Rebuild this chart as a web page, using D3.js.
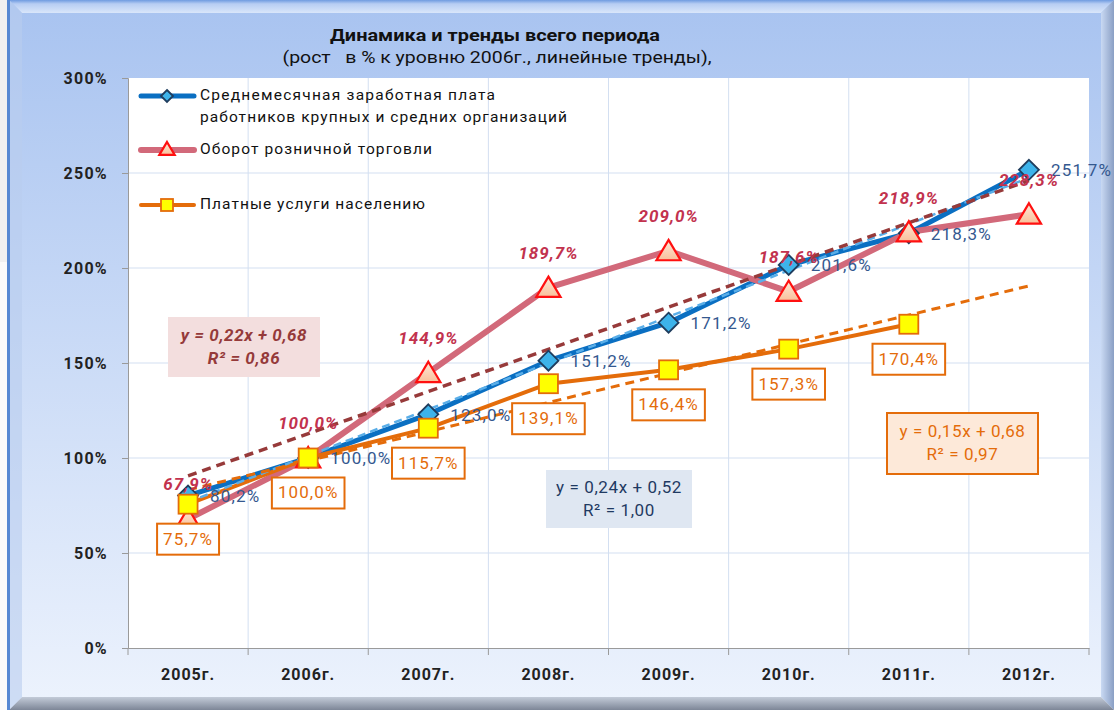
<!DOCTYPE html>
<html><head><meta charset="utf-8">
<script src="https://cdn.jsdelivr.net/npm/d3@7"></script>
<style>html,body{margin:0;padding:0;background:#fff;}svg{display:block;}</style>
</head><body>
<svg id="chart" width="1114" height="710"></svg>
<script>
// ---- data ----
const years = ["2005г.","2006г.","2007г.","2008г.","2009г.","2010г.","2011г.","2012г."];
const wages = [80.2,100.0,123.0,151.2,171.2,201.6,218.3,251.7];
const retail = [67.9,100.0,144.9,189.7,209.0,187.6,218.9,228.3];
const services = [75.7,100.0,115.7,139.1,146.4,157.3,170.4];
const yTicks = [0,50,100,150,200,250,300];
const seriesNames = [
  ["Среднемесячная заработная плата","работников крупных и средних организаций"],
  ["Оборот розничной торговли"],
  ["Платные услуги населению"]
];
const trendWages = ["y = 0,24x + 0,52","R² = 1,00"];
const trendRetail = ["y = 0,22x + 0,68","R² = 0,86"];
const trendServices = ["y = 0,15x + 0,68","R² = 0,97"];
const titleLines = ["Динамика и тренды всего периода","(рост   в % к уровню 2006г., линейные тренды),"];

const W = 1114, H = 710;
const svg = d3.select("#chart");
const FONT = "Roboto, 'Noto Sans', sans-serif";
const defs = svg.append("defs");

// ---- frame ----
const g1 = defs.append("linearGradient").attr("id","panel").attr("x1",0).attr("y1",0).attr("x2",0).attr("y2",1);
g1.append("stop").attr("offset","0%").attr("stop-color","#a8c3f0");
g1.append("stop").attr("offset","100%").attr("stop-color","#edf3fd");
const g2 = defs.append("linearGradient").attr("id","rbev").attr("x1",0).attr("y1",0).attr("x2",1).attr("y2",0);
g2.append("stop").attr("offset","0%").attr("stop-color","#c9d9f3");
g2.append("stop").attr("offset","100%").attr("stop-color","#8a9fc4");
const g3 = defs.append("linearGradient").attr("id","tbev").attr("x1",0).attr("y1",0).attr("x2",0).attr("y2",1);
g3.append("stop").attr("offset","0%").attr("stop-color","#6f9be0");
g3.append("stop").attr("offset","30%").attr("stop-color","#b7cdf3");
g3.append("stop").attr("offset","100%").attr("stop-color","#d9e6fa");
const g4 = defs.append("linearGradient").attr("id","bbev").attr("x1",0).attr("y1",0).attr("x2",0).attr("y2",1);
g4.append("stop").attr("offset","0%").attr("stop-color","#c3cbd8");
g4.append("stop").attr("offset","100%").attr("stop-color","#7d8697");
const g5 = defs.append("linearGradient").attr("id","tri").attr("x1",0).attr("y1",0).attr("x2",0).attr("y2",1);
g5.append("stop").attr("offset","0%").attr("stop-color","#fde9d9");
g5.append("stop").attr("offset","100%").attr("stop-color","#f9c09a");

svg.append("rect").attr("x",0).attr("y",0).attr("width",W).attr("height",H).attr("fill","#f0f0f0");
svg.append("rect").attr("x",0).attr("y",262).attr("width",8).attr("height",H-262).attr("fill","#fafafa");
svg.append("rect").attr("x",9).attr("y",0).attr("width",W-9).attr("height",H).attr("fill","url(#panel)");
svg.append("path").attr("d",`M9,0 L${W},0 L1101,13 L22,13 Z`).attr("fill","url(#tbev)");
svg.append("path").attr("d",`M${W},0 L${W},${H} L1101,697 L1101,13 Z`).attr("fill","url(#rbev)");
svg.append("path").attr("d",`M9,${H} L${W},${H} L1101,697 L22,697 Z`).attr("fill","url(#bbev)");
svg.append("path").attr("d",`M9,0 L22,13 L22,697 L9,${H} Z`).attr("fill","#b9cdef").attr("opacity",0.6);
svg.append("rect").attr("x",7).attr("y",0).attr("width",3).attr("height",H).attr("fill","#5688d2");

// ---- scales ----
const plot = {l:128, r:1089, t:78, b:648};
const x = d3.scaleBand().domain(years).range([plot.l, plot.r]);
const xc = d => x(d) + x.bandwidth()/2;
const y = d3.scaleLinear().domain([0,300]).range([plot.b, plot.t]);

svg.append("rect").attr("x",plot.l).attr("y",plot.t).attr("width",plot.r-plot.l).attr("height",plot.b-plot.t).attr("fill","#ffffff");

// gridlines
svg.append("g").selectAll("line").data(yTicks.filter(v=>v>0 && v<300)).join("line")
  .attr("x1",plot.l).attr("x2",plot.r).attr("y1",d=>y(d)).attr("y2",d=>y(d))
  .attr("stroke","#d3dff1").attr("stroke-width",1);
svg.append("g").selectAll("line").data(years.slice(1)).join("line")
  .attr("x1",d=>x(d)).attr("x2",d=>x(d)).attr("y1",plot.t).attr("y2",plot.b)
  .attr("stroke","#d3dff1").attr("stroke-width",1);

// y axis
const yAxis = d3.axisLeft(y).tickValues(yTicks).tickSize(6).tickFormat(d=>d+"%");
const ya = svg.append("g").attr("transform",`translate(${plot.l},0)`).call(yAxis);
ya.select(".domain").attr("stroke","#9a9a9a");
ya.selectAll(".tick line").attr("stroke","#9a9a9a");
ya.selectAll(".tick text").attr("x",-20).attr("font-family",FONT).attr("font-size",16).attr("font-weight","bold")
  .attr("fill","#222").attr("letter-spacing","1.3px");

// x axis
const xa = svg.append("g").attr("transform",`translate(0,${plot.b})`)
  .call(d3.axisBottom(x).tickSize(0).tickPadding(21));
xa.select(".domain").attr("stroke","#9a9a9a");
xa.selectAll(".tick text").attr("font-family",FONT).attr("font-size",16).attr("font-weight","bold").attr("fill","#222").attr("letter-spacing","1px");
svg.append("g").selectAll("line").data(years.concat(["end"])).join("line")
  .attr("x1",d=>d==="end"?plot.r:x(d)).attr("x2",d=>d==="end"?plot.r:x(d))
  .attr("y1",plot.b).attr("y2",plot.b+7).attr("stroke","#9a9a9a");

// ---- series ----
const C = {
  blue:"#0a6fc2", blueTrend:"#5aaee8", blueLbl:"#34588f",
  red:"#d2697a", redTrend:"#973a3a", redLbl:"#c2324e",
  orange:"#e46c0a"
};
const line = d3.line().x((d,i)=>xc(years[i])).y(d=>y(d));

svg.append("path").datum(wages).attr("d",line).attr("fill","none").attr("stroke",C.blue).attr("stroke-width",5).attr("stroke-linejoin","round");
svg.append("path").datum(retail).attr("d",line).attr("fill","none").attr("stroke",C.red).attr("stroke-width",6).attr("stroke-linejoin","round");
svg.append("path").datum(services).attr("d",line).attr("fill","none").attr("stroke",C.orange).attr("stroke-width",4).attr("stroke-linejoin","round");

// linear trends (least squares, x = 1..n)
function fit(vals){
  const xs = vals.map((v,i)=>i+1);
  const mx = d3.mean(xs), my = d3.mean(vals);
  const sxy = d3.sum(xs.map((xv,i)=>(xv-mx)*(vals[i]-my)));
  const sxx = d3.sum(xs.map(xv=>(xv-mx)*(xv-mx)));
  const b = sxy/sxx; return {b, a: my - b*mx};
}
function trend(vals, color, width, dash){
  const f = fit(vals);
  const x1 = 1, x2 = years.length;
  svg.append("line")
    .attr("x1",xc(years[x1-1])).attr("y1",y(f.a+f.b*x1))
    .attr("x2",xc(years[x2-1])).attr("y2",y(f.a+f.b*x2))
    .attr("stroke",color).attr("stroke-width",width).attr("stroke-dasharray",dash);
}
trend(wages, C.blueTrend, 2.5, "8,5");
trend(retail, C.redTrend, 3.5, "9,6");
trend(services, C.orange, 3, "9,6");

// markers
const diamond = (s) => `M0,${-s} L${s},0 L0,${s} L${-s},0 Z`;
const triangle = (s) => `M0,${-s} L${s*1.1},${s*0.85} L${-s*1.1},${s*0.85} Z`;
function drawDiamond(g, cx, cy, s){
  g.append("path").attr("d",diamond(s)).attr("transform",`translate(${cx},${cy})`)
    .attr("fill","#3db3ea").attr("stroke","#1f3d5e").attr("stroke-width",1.8);
}
function drawTri(g, cx, cy, s){
  g.append("path").attr("d",triangle(s)).attr("transform",`translate(${cx},${cy})`)
    .attr("fill","url(#tri)").attr("stroke","#ff1010").attr("stroke-width",2.2).attr("stroke-linejoin","miter");
}
function drawSq(g, cx, cy, s){
  g.append("rect").attr("x",cx-s).attr("y",cy-s).attr("width",2*s).attr("height",2*s)
    .attr("fill","#ffff00").attr("stroke",C.orange).attr("stroke-width",1.8);
}
const mk = svg.append("g");
wages.forEach((v,i)=>drawDiamond(mk, xc(years[i]), y(v), 10));
retail.forEach((v,i)=>drawTri(mk, xc(years[i]), y(v), 11));
services.forEach((v,i)=>drawSq(mk, xc(years[i]), y(v), 9.5));

const fmt = v => v.toFixed(1).replace(".",",") + "%";

// labels
const lb = svg.append("g").attr("font-family",FONT);
wages.forEach((v,i)=>{
  lb.append("text").attr("x",xc(years[i])+22).attr("y",y(v)+2).attr("dominant-baseline","middle")
    .attr("font-size",17).attr("letter-spacing","1.2px").attr("fill",C.blueLbl).text(fmt(v));
});
retail.forEach((v,i)=>{
  lb.append("text").attr("x",xc(years[i])).attr("y",y(v)-33).attr("dominant-baseline","middle")
    .attr("text-anchor","middle").attr("font-size",17).attr("font-weight","bold").attr("font-style","italic")
    .attr("letter-spacing","1px").attr("fill",C.redLbl).text(fmt(v));
});
services.forEach((v,i)=>{
  const cx = xc(years[i]), cy = y(v)+35;
  const gg = lb.append("g");
  const r = gg.append("rect");
  const t = gg.append("text").attr("x",cx).attr("y",cy+1).attr("dominant-baseline","middle").attr("text-anchor","middle")
    .attr("font-size",17).attr("letter-spacing","1.1px").attr("fill",C.orange).text(fmt(v));
  const w = t.node().getComputedTextLength() + 12;
  r.attr("x",cx-w/2).attr("y",cy-15.5).attr("width",w).attr("height",31)
    .attr("fill","#fff").attr("stroke",C.orange).attr("stroke-width",2);
});

// trend equation boxes
function eqBox(lines, bx, by, bw, bh, fill, stroke, color, bold, italic){
  const g = svg.append("g").attr("font-family",FONT);
  g.append("rect").attr("x",bx).attr("y",by).attr("width",bw).attr("height",bh).attr("fill",fill)
    .attr("stroke",stroke||"none").attr("stroke-width",2);
  lines.forEach((t,i)=>{
    g.append("text").attr("x",bx+bw/2).attr("y",by+bh/2+(i-0.5)*23+1).attr("dominant-baseline","middle")
      .attr("text-anchor","middle").attr("font-size",17).attr("letter-spacing","0.6px")
      .attr("font-weight",bold?"bold":"normal").attr("font-style",italic?"italic":"normal")
      .attr("fill",color).text(t);
  });
}
eqBox(trendRetail, 168, 317, 152, 60, "#f3dede", null, "#953a3a", true, true);
eqBox(trendWages, 546, 470, 146, 58, "#dfe7f2", null, "#1f3a62", false, false);
eqBox(trendServices, 887, 413, 151, 61, "#fde9d9", C.orange, C.orange, false, false);

// legend
const lg = svg.append("g").attr("font-family",FONT);
const legY = [96, 150, 205];
const legColors = [C.blue, C.red, C.orange];
const legW = [5, 6, 4];
legY.forEach((ly,i)=>{
  lg.append("line").attr("x1",141).attr("x2",194).attr("y1",ly).attr("y2",ly)
    .attr("stroke",legColors[i]).attr("stroke-width",legW[i]).attr("stroke-linecap","round");
  if(i===0) drawDiamond(lg,167,ly,6);
  if(i===1) drawTri(lg,167,ly-1,7);
  if(i===2) drawSq(lg,167,ly,6);
  seriesNames[i].forEach((t,j)=>{
    lg.append("text").attr("class","legtext").attr("x",200).attr("y",ly+j*22).attr("dominant-baseline","middle")
      .attr("font-size",15.5).attr("fill","#111").text(t);
  });
});
const legWidths = [295,367,232,225];
lg.selectAll("text.legtext").each(function(d,k){
  d3.select(this).attr("textLength",legWidths[k]).attr("lengthAdjust","spacing");
});

// title
svg.append("text").attr("x",495).attr("y",37).attr("text-anchor","middle").attr("dominant-baseline","middle")
  .attr("font-family",FONT).attr("font-size",16).attr("font-weight","bold").attr("fill","#111")
  .attr("textLength",330).attr("lengthAdjust","spacingAndGlyphs").text(titleLines[0]);
svg.append("text").attr("x",497).attr("y",59).attr("text-anchor","middle").attr("dominant-baseline","middle")
  .attr("font-family",FONT).attr("font-size",16).attr("fill","#111").style("white-space","pre")
  .attr("textLength",429).attr("lengthAdjust","spacingAndGlyphs").text(titleLines[1]);
</script>
</body></html>
